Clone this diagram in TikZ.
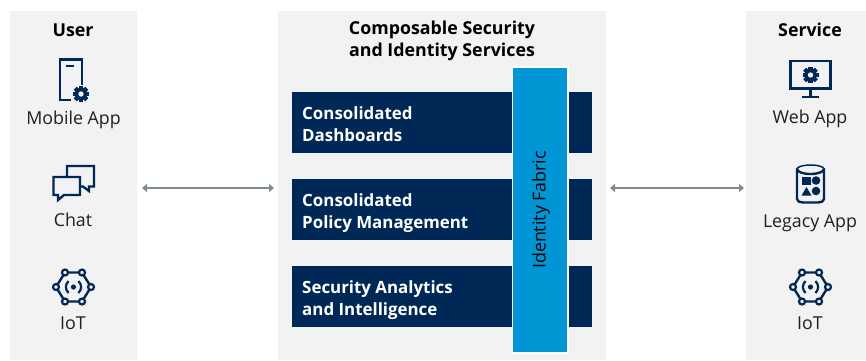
\documentclass[tikz,border=0pt]{standalone}
\usepackage{fontspec}
\setmainfont{Open Sans}
\usetikzlibrary{arrows.meta}
\definecolor{panelbg}{HTML}{F2F2F2}
\definecolor{navy}{HTML}{002856}
\definecolor{fabric}{HTML}{0096D6}
\definecolor{arrowgrey}{HTML}{7F8C8C}
\definecolor{labeltxt}{HTML}{1F1F1F}
\tikzset{
  panel/.style={fill=panelbg,draw=none},
  bar/.style={fill=navy,draw=none},
  fabricbar/.style={fill=fabric,draw=white,line width=1.5pt},
  lbl/.style={font=\fontsize{17.8}{21}\selectfont,text=labeltxt,inner sep=0pt},
  head/.style={font=\fontsize{17.8}{22}\selectfont\bfseries,text=black,inner sep=0pt,align=center},
  bartxt/.style={font=\fontsize{16.9}{22}\selectfont\fontseries{sb}\selectfont,text=white,inner sep=0pt,align=left,anchor=west},
  icon/.style={draw=navy,line width=2.4pt,fill=none,line join=miter},
  link/.style={draw=arrowgrey,line width=1.3pt,{Triangle[width=8pt,length=5pt]}-{Triangle[width=8pt,length=5pt]}},
  pics/gear/.style={code={
    \foreach \a in {0,45,...,315}
      \fill[navy,rotate=\a] (-2.1,-8) rectangle (2.1,8);
    \fill[navy] (0,0) circle (6.2);
    \fill[panelbg] (0,0) circle (2.7);
  }},
  pics/iot/.style={code={
    \draw[icon] (-8.5,-14.5) -- (8.5,-14.5) -- (17.5,0) -- (8.5,14.5) -- (-8.5,14.5) -- (-17.5,0) -- cycle;
    \foreach \p in {(-8.5,-14.5),(8.5,-14.5),(17.5,0),(8.5,14.5),(-8.5,14.5),(-17.5,0)}
      \filldraw[draw=navy,fill=panelbg,line width=2.2pt] \p circle (3);
    \fill[navy] (0,0) circle (2.6);
    \draw[navy,line width=2.2pt] (-5,-6) .. controls (-8.5,-2) and (-8.5,2) .. (-5,6);
    \draw[navy,line width=2.2pt] (5,-6) .. controls (8.5,-2) and (8.5,2) .. (5,6);
  }}
}
\begin{document}
\begin{tikzpicture}[x=1pt,y=-1pt]
\useasboundingbox (0,0) rectangle (866,360);
% panels
\fill[panel] (10,11) rectangle (137,360);
\fill[panel] (278,11) rectangle (606,360);
\fill[panel] (746,11) rectangle (866,360);
% bars
\fill[bar] (292,92) rectangle (592,153);
\fill[bar] (292,179) rectangle (592,240);
\fill[bar] (292,266) rectangle (592,327);
\filldraw[fabricbar] (512.5,67) rectangle (568,353);
% headings
\node[head] (user) at (73,30) {User};
\node[head] (svc) at (810,30) {Service};
\node[head] (comp) at (442,41) {Composable Security\\and Identity Services};
% bar text
\node[bartxt] (b1) at (302,124) {Consolidated\\Dashboards};
\node[bartxt] (b2) at (302,213) {Consolidated\\Policy Management};
\node[bartxt] (b3) at (302,300) {Security Analytics\\and Intelligence};
\node[lbl,text=black,rotate=90] (idf) at (541,210) {Identity Fabric};
% labels
\node[lbl] (l1) at (73.5,120) {Mobile App};
\node[lbl] (l2) at (73,220) {Chat};
\node[lbl] (l3) at (73,323.5) {IoT};
\node[lbl] (r1) at (810,119) {Web App};
\node[lbl] (r2) at (810,223.5) {Legacy App};
\node[lbl] (r3) at (810,323.5) {IoT};
% connectors
\coordinate (a1) at (142,188); \coordinate (a2) at (274,188);
\coordinate (a3) at (610,188); \coordinate (a4) at (744,188);
\draw[link] (a1) -- (a2);
\draw[link] (a3) -- (a4);
% mobile app icon
\draw[icon] (71,100) -- (60,100) -- (60,59.5) -- (82,59.5) -- (82,85);
\draw[navy,line width=2.4pt] (66,66) -- (74,66);
\pic at (81,94) {gear};
% chat icon
\draw[icon] (67,177) -- (67,166) -- (94,166) -- (94,186.5) -- (89,186.5) -- (89,191) -- (83,186.5) -- (80,186.5);
\draw[icon] (53.5,177) -- (80,177) -- (80,195) -- (64,195) -- (58,200) -- (58,195) -- (53.5,195) -- cycle;
% IoT icons
\pic at (73.5,287) {iot};
\pic at (810.5,287) {iot};
% web app icon
\draw[icon] (790.5,61) rectangle (830.5,88.5);
\draw[navy,line width=2.4pt] (810.5,88.5) -- (810.5,97);
\draw[navy,line width=2.4pt] (802,97) -- (819,97);
\pic at (810.5,75) {gear};
% legacy app icon
\draw[icon,line join=round] (797,169) arc[start angle=180,end angle=0,x radius=13.5,y radius=5] -- (824,199) .. controls (824,201.5) and (821,202.5) .. (818,202.5) -- (803,202.5) .. controls (800,202.5) and (797,201.5) .. (797,199) -- cycle;
\draw[navy,line width=1.5pt] (797,169) arc[start angle=180,end angle=360,x radius=13.5,y radius=4];
\fill[navy] (802,177) rectangle (811,184.5);
\fill[navy] (816,180.5) circle (4.3);
\fill[navy] (806.5,187) -- (811.5,195.5) -- (801.5,195.5) -- cycle;
\fill[navy] (816,191) circle (4.3);
\end{tikzpicture}
\end{document}
